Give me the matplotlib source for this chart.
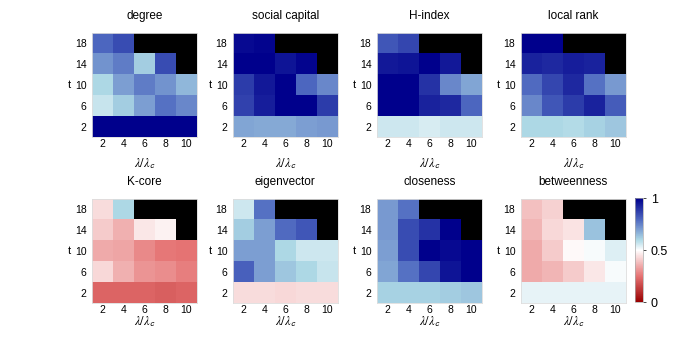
import numpy as np
import matplotlib
matplotlib.use('Agg')
from matplotlib import pyplot as plt
from matplotlib.colors import LinearSegmentedColormap

plt.rcParams['font.family'] = ['Liberation Sans', 'DejaVu Sans']
plt.rcParams['mathtext.fontset'] = 'stix'

lam = [2, 4, 6, 8, 10]
t_vals = [2, 6, 10, 14, 18]
nan = np.nan

# rows: t = 2, 6, 10, 14, 18 ; cols: lambda/lambda_c = 2..10
degree = [
    [1.00, 1.00, 1.00, 1.00, 1.00],
    [0.57, 0.62, 0.70, 0.78, 0.74],
    [0.60, 0.70, 0.76, 0.72, 0.66],
    [0.72, 0.76, 0.62, 0.85, nan],
    [0.80, 0.85, nan, nan, nan],
]
social_capital = [
    [0.69, 0.68, 0.68, 0.70, 0.71],
    [0.87, 0.94, 1.00, 1.00, 0.88],
    [0.88, 0.95, 1.00, 0.80, 0.74],
    [1.00, 1.00, 0.96, 0.99, nan],
    [0.98, 0.99, nan, nan, nan],
]
h_index = [
    [0.56, 0.56, 0.55, 0.56, 0.56],
    [1.00, 1.00, 0.93, 0.92, 0.80],
    [1.00, 1.00, 0.90, 0.74, 0.69],
    [0.95, 0.96, 1.00, 0.95, nan],
    [0.83, 0.86, nan, nan, nan],
]
local_rank = [
    [0.60, 0.60, 0.59, 0.61, 0.63],
    [0.74, 0.83, 0.88, 0.93, 0.82],
    [0.79, 0.86, 0.92, 0.78, 0.71],
    [0.93, 0.92, 0.94, 0.93, nan],
    [1.00, 1.00, nan, nan, nan],
]
k_core = [
    [0.22, 0.22, 0.22, 0.21, 0.22],
    [0.43, 0.36, 0.31, 0.30, 0.27],
    [0.35, 0.34, 0.29, 0.26, 0.25],
    [0.41, 0.36, 0.46, 0.48, nan],
    [0.44, 0.60, nan, nan, nan],
]
eigenvector = [
    [0.44, 0.44, 0.43, 0.44, 0.44],
    [0.81, 0.70, 0.63, 0.60, 0.57],
    [0.70, 0.70, 0.60, 0.56, 0.56],
    [0.62, 0.70, 0.79, 0.83, nan],
    [0.56, 0.78, nan, nan, nan],
]
closeness = [
    [0.61, 0.61, 0.61, 0.62, 0.63],
    [0.69, 0.78, 0.86, 0.96, 1.00],
    [0.70, 0.85, 1.00, 0.98, 1.00],
    [0.71, 0.85, 0.90, 1.00, nan],
    [0.71, 0.78, nan, nan, nan],
]
betweenness = [
    [0.53, 0.53, 0.53, 0.53, 0.53],
    [0.35, 0.37, 0.41, 0.46, 0.51],
    [0.35, 0.41, 0.49, 0.51, 0.54],
    [0.37, 0.43, 0.45, 0.64, nan],
    [0.39, 0.42, nan, nan, nan],
]

titles = ['degree', 'social capital', 'H-index', 'local rank',
          'K-core', 'eigenvector', 'closeness', 'betweenness']
panels = [degree, social_capital, h_index, local_rank,
          k_core, eigenvector, closeness, betweenness]

cmap = LinearSegmentedColormap.from_list('rwb', [
    (0.0, (0.6, 0.0, 0.0)),
    (0.25, (0.9, 0.45, 0.45)),
    (0.5, (1.0, 1.0, 1.0)),
    (0.6, (0.68, 0.85, 0.90)),
    (0.8, (0.30, 0.40, 0.75)),
    (1.0, (0.0, 0.0, 0.55)),
])
cmap.set_bad('black')

fig = plt.figure(figsize=(6.94, 3.48), dpi=100)
lefts = [0.1326, 0.3357, 0.5432, 0.7507]
bottoms = [0.606, 0.129]
w, h = 0.151, 0.300

for i, (data, title) in enumerate(zip(panels, titles)):
    r, c = divmod(i, 4)
    ax = fig.add_axes([lefts[c], bottoms[r], w, h])
    arr = np.ma.masked_invalid(np.array(data, dtype=float))
    im = ax.imshow(arr, cmap=cmap, vmin=0, vmax=1, origin='lower',
                   extent=[1, 11, 0, 20], aspect='auto', interpolation='nearest')
    ax.set_xticks(lam)
    ax.set_yticks(t_vals)
    ax.tick_params(axis='x', length=0, labelsize=7.5, pad=1.5)
    ax.tick_params(axis='y', length=0, labelsize=7.5, pad=4)
    for s in ax.spines.values():
        s.set_color('#dddddd')
        s.set_linewidth(0.6)
    ax.set_title(title, fontsize=8.5, pad=10)
    ax.set_xlabel(r'$\lambda/\lambda_\mathsf{c}$', fontsize=9,
                  labelpad=5 if r == 0 else -1)
    ax.set_ylabel('t', rotation=0, fontsize=8, labelpad=4, va='center')

cax = fig.add_axes([0.915, 0.132, 0.0115, 0.298])
cb = fig.colorbar(im, cax=cax, ticks=[0, 0.5, 1])
cb.ax.set_yticklabels(['0', '0.5', '1'])
cb.ax.tick_params(labelsize=9, length=2, width=0.5)
cb.outline.set_linewidth(0.5)
cb.outline.set_edgecolor('#aaaaaa')

fig.savefig('out.png', dpi=100)
